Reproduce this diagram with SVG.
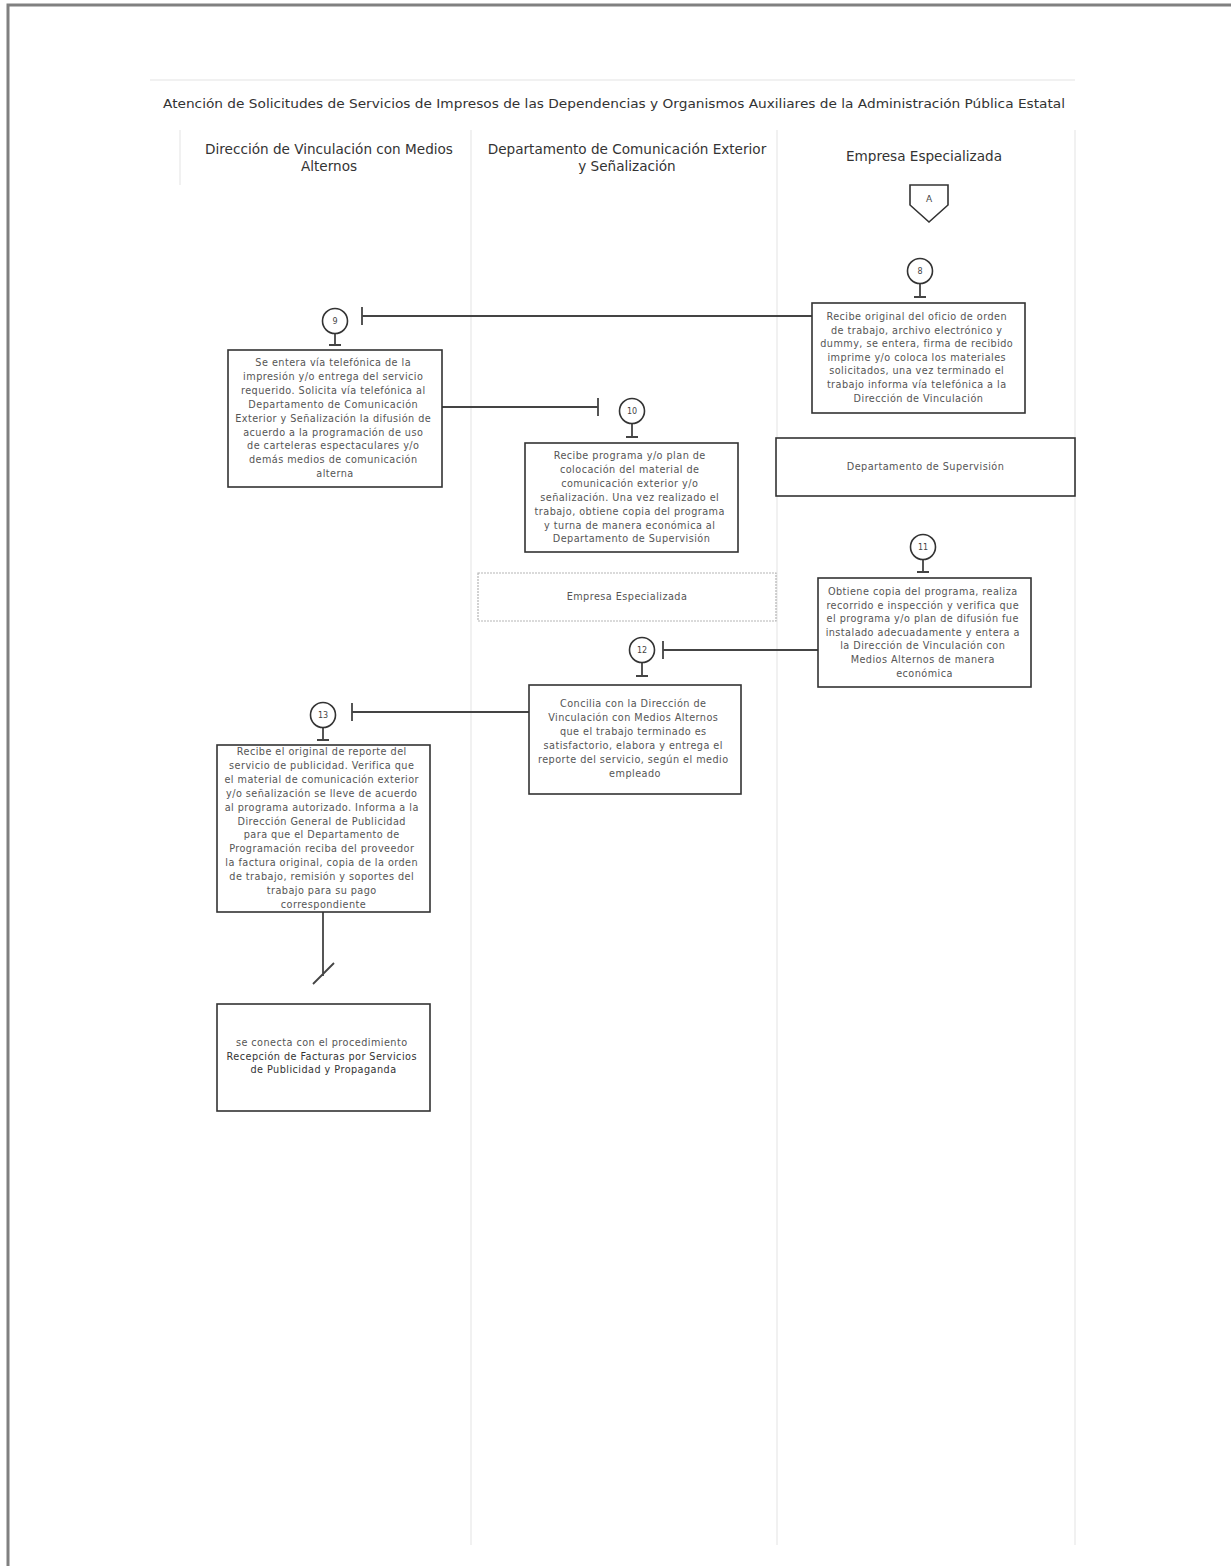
<svg xmlns="http://www.w3.org/2000/svg" width="1231" height="1566" viewBox="0 0 1231 1566">
<style>
.page{fill:#fff}
.border{stroke:#808080;stroke-width:3;fill:none}
.lane{stroke:#ededed;stroke-width:1.5;fill:none}
.title{font-family:"DejaVu Sans","Liberation Sans",sans-serif;font-size:11.5px;fill:#333}
.hdr{font-family:"DejaVu Sans","Liberation Sans",sans-serif;font-size:13.6px;fill:#333;text-anchor:middle}
.box{fill:#fff;stroke:#333;stroke-width:1.6}
.lbox{fill:#fff;stroke:#b5b5b5;stroke-width:1.2;stroke-dasharray:2 1}
.t{font-family:"DejaVu Sans","Liberation Sans",sans-serif;font-size:9.7px;letter-spacing:0.45px;fill:#555;text-anchor:middle}
.td{fill:#333}
.circ{fill:#fff;stroke:#333;stroke-width:1.6}
.num{font-family:"DejaVu Sans","Liberation Sans",sans-serif;font-size:8px;fill:#444;text-anchor:middle}
.ln{stroke:#444;stroke-width:1.8;fill:none}
</style>
<rect class="page" x="0" y="0" width="1231" height="1566"/>
<path class="border" d="M8,1566 V5 H1231"/>
<g id="lanes">
<line class="lane" x1="180" y1="130" x2="180" y2="185"/>
<line class="lane" x1="471" y1="130" x2="471" y2="1545"/>
<line class="lane" x1="777" y1="130" x2="777" y2="1545"/>
<line class="lane" x1="1075" y1="130" x2="1075" y2="1545"/>
<line class="lane" x1="150" y1="80" x2="1075" y2="80"/>
</g>
<text class="title" x="163" y="108" textLength="902" lengthAdjust="spacingAndGlyphs">Atención de Solicitudes de Servicios de Impresos de las Dependencias y Organismos Auxiliares de la Administración Pública Estatal</text>
<g id="headers">
<text class="hdr" x="329" y="154">Dirección de Vinculación con Medios</text>
<text class="hdr" x="329" y="171">Alternos</text>
<text class="hdr" x="627" y="154">Departamento de Comunicación Exterior</text>
<text class="hdr" x="627" y="171">y Señalización</text>
<text class="hdr" x="924" y="161">Empresa Especializada</text>
</g>
<g id="connectors">
<path class="ln" d="M920,283.5 V297 M914,297 H926"/>
<path class="ln" d="M812,316 H362 M362,307 V325"/>
<path class="ln" d="M335,333.5 V345 M329,345 H341"/>
<path class="ln" d="M442,407 H598 M598,398 V416"/>
<path class="ln" d="M632,423.5 V437 M626,437 H638"/>
<path class="ln" d="M923,559.5 V572 M917,572 H929"/>
<path class="ln" d="M818,650 H663 M663,641 V659"/>
<path class="ln" d="M642,662.5 V676 M636,676 H648"/>
<path class="ln" d="M529,712 H352 M352,703 V721"/>
<path class="ln" d="M323,727.5 V740 M317,740 H329"/>
<path class="ln" d="M323,912 V976 M313,984 L334,963"/>
</g>
<g id="nodeA">
<polygon points="910,185 948,185 948,205 929,222 910,205" fill="#fff" stroke="#333" stroke-width="1.6"/>
<text class="num" x="929" y="202" style="font-size:9px">A</text>
</g>
<g id="node8">
<circle class="circ" cx="920" cy="271" r="12.5"/>
<text class="num" x="920" y="274">8</text>
<rect class="box" x="812" y="303" width="213" height="110"/>
<text class="t" x="918.5" y="320">
<tspan x="918.5" dy="0">Recibe original del oficio de orden</tspan>
<tspan x="918.5" dy="13.6">de trabajo, archivo electrónico y</tspan>
<tspan x="918.5" dy="13.6">dummy, se entera, firma de recibido</tspan>
<tspan x="918.5" dy="13.6">imprime y/o coloca los materiales</tspan>
<tspan x="918.5" dy="13.6">solicitados, una vez terminado el</tspan>
<tspan x="918.5" dy="13.6">trabajo informa vía telefónica a la</tspan>
<tspan x="918.5" dy="13.6">Dirección de Vinculación</tspan>
</text>
</g>
<g id="node9">
<circle class="circ" cx="335" cy="321" r="12.5"/>
<text class="num" x="335" y="324">9</text>
<rect class="box" x="228" y="350" width="214" height="137"/>
<text class="t" x="335" y="366">
<tspan x="335" dy="0">Se entera vía telefónica de la</tspan>
<tspan x="335" dy="13.9">impresión y/o entrega del servicio</tspan>
<tspan x="335" dy="13.9">requerido. Solicita vía telefónica al</tspan>
<tspan x="335" dy="13.9">Departamento de Comunicación</tspan>
<tspan x="335" dy="13.9">Exterior y Señalización la difusión de</tspan>
<tspan x="335" dy="13.9">acuerdo a la programación de uso</tspan>
<tspan x="335" dy="13.9">de carteleras espectaculares y/o</tspan>
<tspan x="335" dy="13.9">demás medios de comunicación</tspan>
<tspan x="335" dy="13.9">alterna</tspan>
</text>
</g>
<g id="node10">
<circle class="circ" cx="632" cy="411" r="12.5"/>
<text class="num" x="632" y="414">10</text>
<rect class="box" x="525" y="443" width="213" height="109"/>
<text class="t" x="631.5" y="459">
<tspan x="631.5" dy="0">Recibe programa y/o plan de</tspan>
<tspan x="631.5" dy="13.9">colocación del material de</tspan>
<tspan x="631.5" dy="13.9">comunicación exterior y/o</tspan>
<tspan x="631.5" dy="13.9">señalización. Una vez realizado el</tspan>
<tspan x="631.5" dy="13.9">trabajo, obtiene copia del programa</tspan>
<tspan x="631.5" dy="13.9">y turna de manera económica al</tspan>
<tspan x="631.5" dy="13.9">Departamento de Supervisión</tspan>
</text>
</g>
<g id="deptSupervision">
<rect class="box" x="776" y="438" width="299" height="58"/>
<text class="t" x="925.5" y="470">Departamento de Supervisión</text>
</g>
<g id="empresaEspecializada">
<rect class="lbox" x="478" y="573" width="298" height="48"/>
<text class="t" x="627" y="600">Empresa Especializada</text>
</g>
<g id="node11">
<circle class="circ" cx="923" cy="547" r="12.5"/>
<text class="num" x="923" y="550">11</text>
<rect class="box" x="818" y="578" width="213" height="109"/>
<text class="t" x="924.5" y="595">
<tspan x="924.5" dy="0">Obtiene copia del programa, realiza</tspan>
<tspan x="924.5" dy="13.6">recorrido e inspección y verifica que</tspan>
<tspan x="924.5" dy="13.6">el programa y/o plan de difusión fue</tspan>
<tspan x="924.5" dy="13.6">instalado adecuadamente y entera a</tspan>
<tspan x="924.5" dy="13.6">la Dirección de Vinculación con</tspan>
<tspan x="924.5" dy="13.6">Medios Alternos de manera</tspan>
<tspan x="924.5" dy="13.6">económica</tspan>
</text>
</g>
<g id="node12">
<circle class="circ" cx="642" cy="650" r="12.5"/>
<text class="num" x="642" y="653">12</text>
<rect class="box" x="529" y="685" width="212" height="109"/>
<text class="t" x="635" y="707">
<tspan x="635" dy="0">Concilia con la Dirección de</tspan>
<tspan x="635" dy="13.9">Vinculación con Medios Alternos</tspan>
<tspan x="635" dy="13.9">que el trabajo terminado es</tspan>
<tspan x="635" dy="13.9">satisfactorio, elabora y entrega el</tspan>
<tspan x="635" dy="13.9">reporte del servicio, según el medio</tspan>
<tspan x="635" dy="13.9">empleado</tspan>
</text>
</g>
<g id="node13">
<circle class="circ" cx="323" cy="715" r="12.5"/>
<text class="num" x="323" y="718">13</text>
<rect class="box" x="217" y="745" width="213" height="167"/>
<text class="t" x="323.5" y="755">
<tspan x="323.5" dy="0">Recibe el original de reporte del</tspan>
<tspan x="323.5" dy="13.9">servicio de publicidad. Verifica que</tspan>
<tspan x="323.5" dy="13.9">el material de comunicación exterior</tspan>
<tspan x="323.5" dy="13.9">y/o señalización se lleve de acuerdo</tspan>
<tspan x="323.5" dy="13.9">al programa autorizado. Informa a la</tspan>
<tspan x="323.5" dy="13.9">Dirección General de Publicidad</tspan>
<tspan x="323.5" dy="13.9">para que el Departamento de</tspan>
<tspan x="323.5" dy="13.9">Programación reciba del proveedor</tspan>
<tspan x="323.5" dy="13.9">la factura original, copia de la orden</tspan>
<tspan x="323.5" dy="13.9">de trabajo, remisión y soportes del</tspan>
<tspan x="323.5" dy="13.9">trabajo para su pago</tspan>
<tspan x="323.5" dy="13.9">correspondiente</tspan>
</text>
</g>
<g id="nodeEnd">
<rect class="box" x="217" y="1004" width="213" height="107"/>
<text class="t" x="323.5" y="1046">
<tspan x="323.5" dy="0">se conecta con el procedimiento</tspan>
<tspan class="td" x="323.5" dy="13.6">Recepción de Facturas por Servicios</tspan>
<tspan class="td" x="323.5" dy="13.6">de Publicidad y Propaganda</tspan>
</text>
</g>
</svg>
